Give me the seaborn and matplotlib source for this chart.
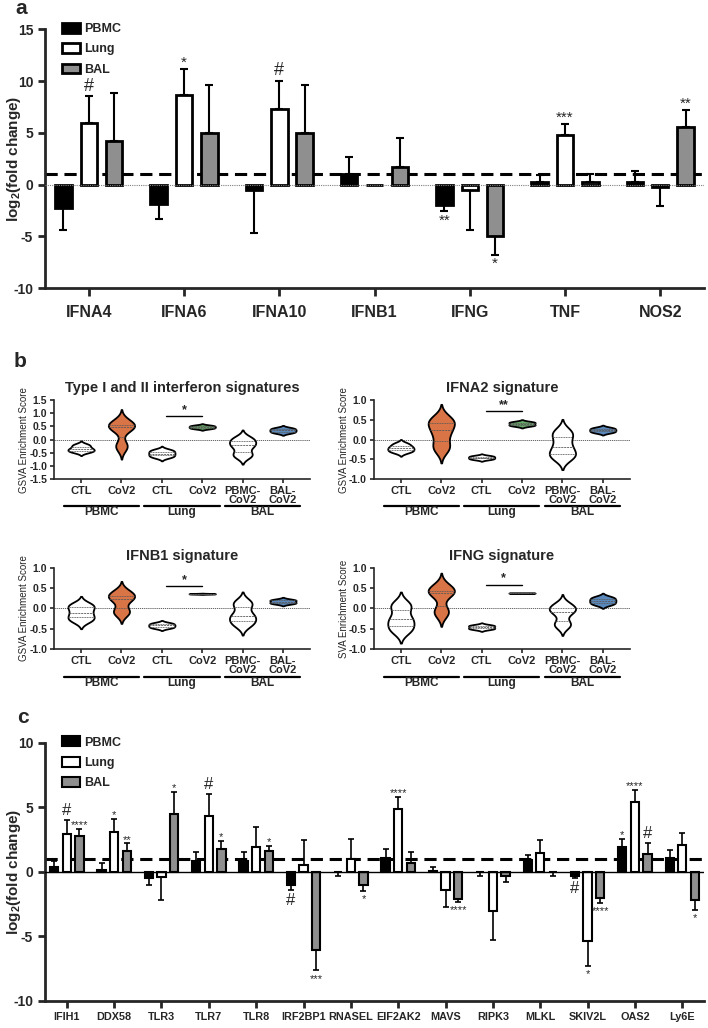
import numpy as np
import pandas as pd
import matplotlib
matplotlib.use('Agg')
import matplotlib.pyplot as plt
import matplotlib.transforms as mtransforms
import seaborn as sns

sns.set_style('ticks')
plt.rcParams['font.family'] = ['Liberation Sans', 'DejaVu Sans']
plt.rcParams['mathtext.default'] = 'regular'
plt.rcParams['axes.unicode_minus'] = False

tissues = ['PBMC', 'Lung', 'BAL']
bar_colors = {'PBMC': 'black', 'Lung': 'white', 'BAL': '#8f8f8f'}

# ---- panel a data
genes_a = ['IFNA4', 'IFNA6', 'IFNA10', 'IFNB1', 'IFNG', 'TNF', 'NOS2']
a_vals = {
    'PBMC': [-2.3, -1.9, -0.55, 1.05, -2.0, 0.25, 0.25],
    'Lung': [6.0, 8.7, 7.3, 0.0, -0.55, 4.8, -0.2],
    'BAL':  [4.2, 5.0, 5.0, 1.7, -4.95, 0.25, 5.6],
}
a_errs = {
    'PBMC': [2.1, 1.4, 4.15, 1.6, 0.55, 0.65, 1.05],
    'Lung': [2.55, 2.5, 2.75, np.nan, 3.85, 1.1, 1.9],
    'BAL':  [4.65, 4.65, 4.65, 2.8, 1.8, 0.75, 1.6],
}
a_marks = {
    'PBMC': ['', '', '', '', '**', '', ''],
    'Lung': ['#', '*', '#', '', '', '***', ''],
    'BAL':  ['', '', '', '', '*', '', '**'],
}

# ---- panel c data
genes_c = ['IFIH1', 'DDX58', 'TLR3', 'TLR7', 'TLR8', 'IRF2BP1', 'RNASEL',
           'EIF2AK2', 'MAVS', 'RIPK3', 'MLKL', 'SKIV2L', 'OAS2', 'Ly6E']
c_vals = {
    'PBMC': [0.4, 0.1, -0.5, 0.85, 0.85, -1.0, -0.05, 1.05, 0.05, -0.05, 0.9, -0.3, 1.9, 1.1],
    'Lung': [2.9, 3.1, -0.4, 4.3, 1.9, 0.55, 1.0, 4.9, -1.4, -3.05, 1.45, -5.4, 5.4, 2.1],
    'BAL':  [2.8, 1.6, 4.5, 1.75, 1.6, -6.1, -1.05, 0.65, -2.1, -0.3, -0.05, -2.0, 1.35, -2.2],
}
c_errs = {
    'PBMC': [0.45, 0.55, 0.5, 0.65, 0.65, 0.4, 0.25, 0.7, 0.35, 0.25, 0.4, 0.2, 0.65, 0.55],
    'Lung': [1.1, 1.0, 1.8, 1.7, 1.6, 1.95, 1.55, 0.9, 1.3, 2.25, 1.0, 1.9, 0.95, 0.9],
    'BAL':  [0.5, 0.6, 1.7, 0.65, 0.4, 1.55, 0.45, 0.9, 0.25, 0.5, 0.3, 0.4, 0.9, 0.75],
}
c_marks = {
    'PBMC': ['', '', '', '', '', '#', '', '', '', '', '', '#', '*', ''],
    'Lung': ['#', '*', '', '#', '', '', '', '****', '', '', '', '*', '****', ''],
    'BAL':  ['****', '**', '*', '*', '*', '***', '*', '', '****', '', '', '****', '#', '*'],
}

# ---- panel b data (GSVA scores per group)
vio_keys = ['PBMC CTL', 'PBMC CoV2', 'Lung CTL', 'Lung CoV2', 'PBMC-CoV2', 'BAL-CoV2']
vio_ticks = ['CTL', 'CoV2', 'CTL', 'CoV2', 'PBMC-\nCoV2', 'BAL-\nCoV2']
vio_colors = ['white', '#F26B2D', 'white', '#5DB75E', 'white', '#4A87CB']
groups_b = ['PBMC', 'Lung', 'BAL']

sig_type12 = [[-0.18, -0.25, -0.33, -0.38, -0.43, -0.48],
              [0.7, 0.58, 0.52, 0.48, 0.4, -0.2, -0.3],
              [-0.38, -0.44, -0.5, -0.56, -0.62, -0.68],
              [0.42, 0.46, 0.5, 0.54],
              [0.05, -0.02, -0.2, -0.25, -0.55, -0.62],
              [0.26, 0.32, 0.38, 0.44]]
sig_ifna2 = [[-0.1, -0.17, -0.22, -0.27, -0.32],
             [0.55, 0.45, 0.4, 0.24, 0.1, -0.15, -0.25],
             [-0.41, -0.44, -0.47, -0.5],
             [0.35, 0.38, 0.42, 0.45],
             [0.2, 0.12, -0.1, -0.27, -0.4, -0.45],
             [0.18, 0.22, 0.26, 0.3]]
sig_ifnb1 = [[0.1, 0.03, -0.1, -0.22, -0.3],
             [0.42, 0.33, 0.28, 0.2, -0.05, -0.12],
             [-0.36, -0.4, -0.44, -0.48],
             [0.355, 0.36, 0.365, 0.37],
             [0.15, 0.1, -0.15, -0.2, -0.33, -0.4],
             [0.12, 0.15, 0.19, 0.22]]
sig_ifng = [[0.1, 0.04, -0.24, -0.3, -0.48, -0.55],
            [0.55, 0.45, 0.4, 0.36, -0.05, -0.12],
            [-0.41, -0.44, -0.48, -0.51],
            [0.379, 0.38, 0.381],
            [0.1, 0.03, -0.05, -0.1, -0.37, -0.42],
            [0.1, 0.16, 0.22, 0.28]]


def bar_panel(ax, genes, vals, errs, marks, lw, elw, cap, star_fs, hash_fs, tick_fs):
    rows = []
    for t in tissues:
        for g, v in zip(genes, vals[t]):
            rows.append({'gene': g, 'tissue': t, 'value': v})
    df = pd.DataFrame(rows)
    ax.axhline(1, color='black', lw=2.2, ls=(0, (4, 2.2)), zorder=1)
    sns.barplot(data=df, x='gene', y='value', hue='tissue', order=genes,
                hue_order=tissues, palette=bar_colors, edgecolor='black',
                linewidth=lw, width=0.8, gap=0.35, errorbar=None, ax=ax, zorder=3)
    for cont, t in zip(ax.containers, tissues):
        for bar, v, e, m in zip(cont, vals[t], errs[t], marks[t]):
            x = bar.get_x() + bar.get_width() / 2
            s = 1 if v >= 0 else -1
            tip = v
            if not np.isnan(e):
                tip = v + s * e
                ax.errorbar(x, v, yerr=[[e if s < 0 else 0], [e if s > 0 else 0]],
                            color='black', elinewidth=elw, capsize=cap,
                            capthick=elw, zorder=2)
            if m:
                fs = hash_fs if m == '#' else star_fs
                off = 0.15 if m == '#' else -0.1
                if s > 0:
                    ax.text(x, tip + off, m, ha='center', va='bottom', fontsize=fs)
                else:
                    ax.text(x, tip - 0.25, m, ha='center', va='top', fontsize=fs)
    ax.set_xlabel('')
    ax.set_ylabel('log$_2$(fold change)', fontsize=11, fontweight='bold')
    ax.yaxis.set_label_coords(-0.033, 0.5)
    ax.set_ylim(-10, 15 if genes is genes_a else 10)
    ax.set_xlim(-0.46, len(genes) - 0.54)
    sns.despine(ax=ax)
    for sp in ['left', 'bottom']:
        ax.spines[sp].set_linewidth(2)
    ax.tick_params(width=2, length=5)
    for lab in ax.get_xticklabels():
        lab.set_fontweight('bold')
        lab.set_fontsize(tick_fs)
    for lab in ax.get_yticklabels():
        lab.set_fontweight('bold')
        lab.set_fontsize(10)
    h, l = ax.get_legend_handles_labels()
    ax.legend(h, l, loc='upper left', bbox_to_anchor=(0.018, 1.045), frameon=False,
              borderaxespad=0, handlelength=1.45, handleheight=0.85,
              labelspacing=0.65, handletextpad=0.3,
              prop={'weight': 'bold', 'size': 9})


def violin_panel(ax, title, data, ylab, ylim, yticks, br_y, br_txt):
    rows = [(k, v) for k, vs in zip(vio_keys, data) for v in vs]
    df = pd.DataFrame(rows, columns=['group', 'score'])
    ax.axhline(0, color='0.3', lw=0.6, ls=(0, (1.5, 1)), zorder=0)
    sns.violinplot(data=df, x='group', y='score', hue='group', order=vio_keys,
                   hue_order=vio_keys, palette=vio_colors, legend=False,
                   inner='quart', cut=2.2, bw_adjust=0.75, density_norm='width',
                   width=0.65, linewidth=1.3, linecolor='black',
                   inner_kws=dict(color='0.35', linewidth=0.6), ax=ax)
    ax.set_xlim(-0.67, 5.67)
    ax.set_ylim(*ylim)
    ax.set_yticks(yticks)
    ax.set_yticklabels([f'{t:.1f}' for t in yticks], fontweight='bold', fontsize=7.5)
    ax.set_xticks(range(6))
    ax.set_xticklabels(vio_ticks, fontweight='bold', fontsize=8, linespacing=0.85)
    ax.set_xlabel('')
    ax.set_ylabel(ylab, fontsize=7)
    ax.yaxis.set_label_coords(-0.098, 0.5)
    ax.set_title(title, fontsize=10.5, fontweight='bold', pad=6)
    sns.despine(ax=ax)
    for sp in ['left', 'bottom']:
        ax.spines[sp].set_linewidth(1.2)
    ax.tick_params(width=1.2, length=3, pad=2)
    tr = mtransforms.blended_transform_factory(ax.transData, ax.transAxes)
    for i, g in enumerate(groups_b):
        c = 2 * i
        ax.plot([c - 0.43, c + 1.43], [-0.34, -0.34], color='black', lw=1.6,
                transform=tr, clip_on=False)
        ax.text(c + 0.5, -0.42, g, ha='center', va='center', fontsize=8.5,
                fontweight='bold', transform=tr)
    ax.plot([2.1, 3.0], [br_y, br_y], color='black', lw=1.0)
    ax.text(2.55, br_y, br_txt, ha='center', va='bottom', fontsize=9, fontweight='bold')


fig = plt.figure(figsize=(7.08, 10.28), dpi=100)

ax_a = fig.add_axes([0.0636, 0.7196, 0.9308, 0.2519])
bar_panel(ax_a, genes_a, a_vals, a_errs, a_marks, lw=2, elw=1.5, cap=3,
          star_fs=11, hash_fs=13, tick_fs=11.5)
ax_a.axhline(0, color='0.5', lw=0.8, ls=(0, (1, 1)), zorder=4)
ax_a.set_yticks([-10, -5, 0, 5, 10, 15])
ax_a.tick_params(axis='x', length=6, pad=6)

ax_c = fig.add_axes([0.0636, 0.0266, 0.9308, 0.2508])
bar_panel(ax_c, genes_c, c_vals, c_errs, c_marks, lw=1.5, elw=1.2, cap=2.2,
          star_fs=8, hash_fs=12, tick_fs=7.8)
ax_c.axhline(0, color='black', lw=1.0, zorder=4)
ax_c.set_yticks([-10, -5, 0, 5, 10])

ax1 = fig.add_axes([0.0763, 0.534, 0.3616, 0.0768])
violin_panel(ax1, 'Type I and II interferon signatures', sig_type12,
             'GSVA Enrichment Score', (-1.5, 1.5), [-1.5, -1.0, -0.5, 0.0, 0.5, 1.0, 1.5],
             0.88, '*')
ax2 = fig.add_axes([0.528, 0.534, 0.3616, 0.0768])
violin_panel(ax2, 'IFNA2 signature', sig_ifna2, 'GSVA Enrichment Score',
             (-1.0, 1.0), [-1.0, -0.5, 0.0, 0.5, 1.0], 0.73, '**')
ax3 = fig.add_axes([0.0763, 0.3687, 0.3616, 0.0788])
violin_panel(ax3, 'IFNB1 signature', sig_ifnb1, 'GSVA Enrichment Score',
             (-1.0, 1.0), [-1.0, -0.5, 0.0, 0.5, 1.0], 0.55, '*')
ax4 = fig.add_axes([0.528, 0.3687, 0.3616, 0.0788])
violin_panel(ax4, 'IFNG signature', sig_ifng, 'SVA Enrichment Score',
             (-1.0, 1.0), [-1.0, -0.5, 0.0, 0.5, 1.0], 0.59, '*')

fig.text(0.03, 0.992, 'a', fontsize=15, fontweight='bold', ha='center', va='center')
fig.text(0.028, 0.648, 'b', fontsize=15, fontweight='bold', ha='center', va='center')
fig.text(0.033, 0.302, 'c', fontsize=15, fontweight='bold', ha='center', va='center')

fig.savefig('out.png', dpi=100)
